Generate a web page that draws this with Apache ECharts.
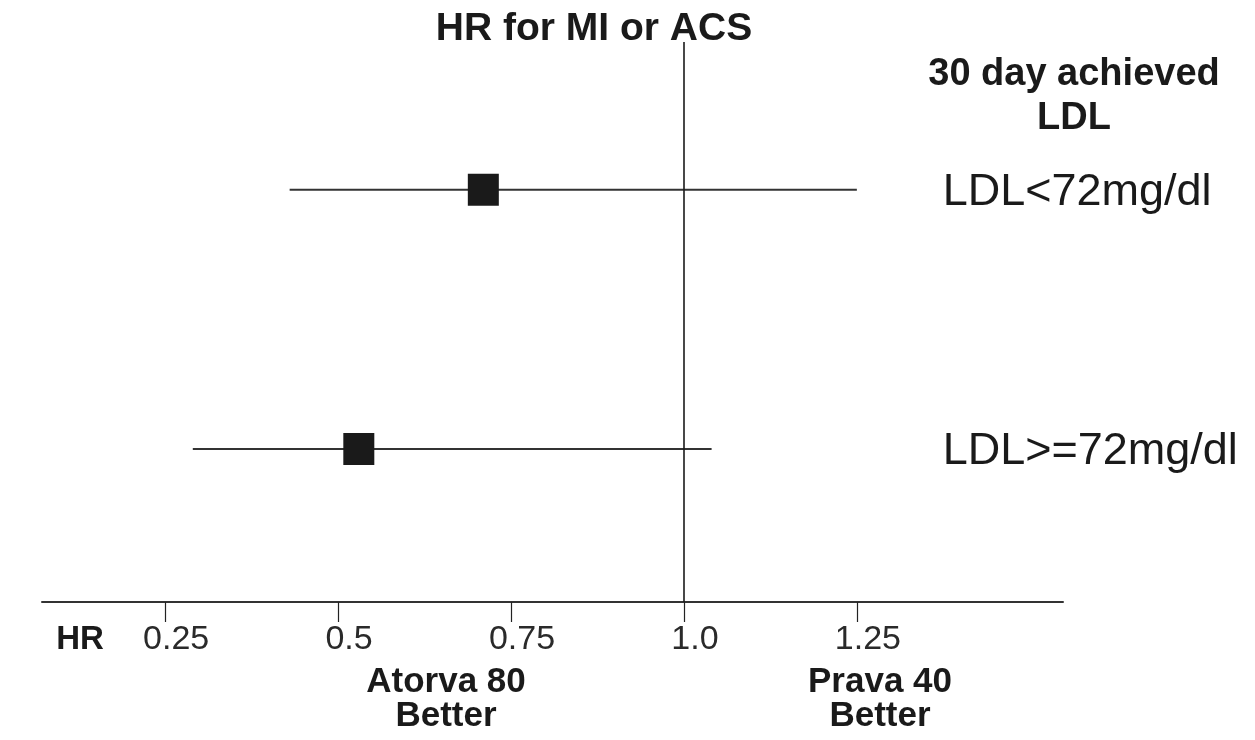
<!DOCTYPE html>
<html>
<head>
<meta charset="utf-8">
<script src="https://cdn.jsdelivr.net/npm/echarts@6/dist/echarts.min.js"></script>
<style>
html,body{margin:0;padding:0;background:#fff;}
#chart{width:1255px;height:740px;}
</style>
</head>
<body>
<div id="chart"></div>
<script>
// ---- data ----
const categories = ['LDL<72mg/dl', 'LDL>=72mg/dl'];
const rowPos = [2, 1];
const hr = [0.71, 0.53];
const ciLow = [0.43, 0.29];
const ciHigh = [1.25, 1.04];
const tickValues = [0.25, 0.5, 0.75, 1.0, 1.25];
const tickLabels = ['0.25', '0.5', '0.75', '1.0', '1.25'];
const titleText = 'HR for MI or ACS';
const groupHeader = '30 day achieved\nLDL';
const axisName = 'HR';
const leftNote = 'Atorva 80\nBetter';
const rightNote = 'Prava 40\nBetter';

const FONT = "'Liberation Sans', Arial, sans-serif";
const chart = echarts.init(document.getElementById('chart'));

const pointData = hr.map((v, i) => [v, rowPos[i]]);
const ciData = ciLow.map((v, i) => [v, ciHigh[i], rowPos[i]]);
const labelX = 1.374;
const labelData = categories.map((c, i) => ({ value: [labelX, rowPos[i]], name: c }));

const option = {
  backgroundColor: '#fff',
  animation: false,
  grid: { left: 42, right: 192, top: 42, bottom: 138, containLabel: false },
  xAxis: {
    type: 'value',
    min: 0.072,
    max: 1.548,
    splitLine: { show: false },
    axisLine: { show: true, lineStyle: { color: '#333', width: 2 } },
    axisTick: { show: true, customValues: tickValues, length: 20, lineStyle: { color: '#222', width: 1.2 } },
    axisLabel: {
      show: true,
      customValues: tickValues,
      formatter: v => { const k = tickValues.findIndex(t => Math.abs(t - v) < 1e-9); return k >= 0 ? tickLabels[k] : ''; },
      color: '#2a2a2a', fontSize: 34, fontFamily: FONT, margin: 21,
      padding: [0, 0, 0, 22]
    }
  },
  yAxis: {
    type: 'value', min: 0.41, max: 2.57,
    show: false
  },
  graphic: [
    { type: 'text', x: 594, y: 29, style: { text: titleText, fontSize: 39, fontWeight: 'bold', fontFamily: FONT, fill: '#1a1a1a', align: 'center', verticalAlign: 'middle' } },
    { type: 'text', x: 1074, y: 97, style: { text: groupHeader, fontSize: 38, fontWeight: 'bold', fontFamily: FONT, fill: '#1a1a1a', align: 'center', verticalAlign: 'middle', lineHeight: 44 } },
    { type: 'text', x: 80, y: 640, style: { text: axisName, fontSize: 33, fontWeight: 'bold', fontFamily: FONT, fill: '#1a1a1a', align: 'center', verticalAlign: 'middle' } },
    { type: 'text', x: 446, y: 699, style: { text: leftNote, fontSize: 35, fontWeight: 'bold', fontFamily: FONT, fill: '#1a1a1a', align: 'center', verticalAlign: 'middle', lineHeight: 34 } },
    { type: 'text', x: 880, y: 699, style: { text: rightNote, fontSize: 35, fontWeight: 'bold', fontFamily: FONT, fill: '#1a1a1a', align: 'center', verticalAlign: 'middle', lineHeight: 34 } }
  ],
  series: [
    {
      type: 'custom',
      data: ciData,
      clip: false,
      renderItem: (params, api) => {
        const p1 = api.coord([api.value(0), api.value(2)]);
        const p2 = api.coord([api.value(1), api.value(2)]);
        return { type: 'line', shape: { x1: p1[0], y1: p1[1], x2: p2[0], y2: p2[1] }, style: { stroke: '#333', lineWidth: 2 } };
      },
      encode: { x: [0, 1], y: 2 },
      z: 2
    },
    {
      type: 'scatter',
      data: pointData,
      symbol: 'rect',
      symbolSize: [31, 32],
      itemStyle: { color: '#1a1a1a', opacity: 1 },
      z: 3,
      markLine: {
        silent: true,
        symbol: 'none',
        label: { show: false },
        lineStyle: { color: '#1a1a1a', width: 1.6, type: 'solid', opacity: 1 },
        data: [{ xAxis: 1.0 }]
      }
    },
    {
      type: 'scatter',
      data: labelData,
      symbolSize: 0,
      silent: true,
      itemStyle: { opacity: 1 },
      label: {
        show: true, position: 'right', distance: 0,
        formatter: p => p.name,
        color: '#1a1a1a', opacity: 1, fontSize: 45, fontFamily: FONT,
        offset: [0, 3]
      }
    }
  ]
};
chart.setOption(option);
</script>
</body>
</html>
